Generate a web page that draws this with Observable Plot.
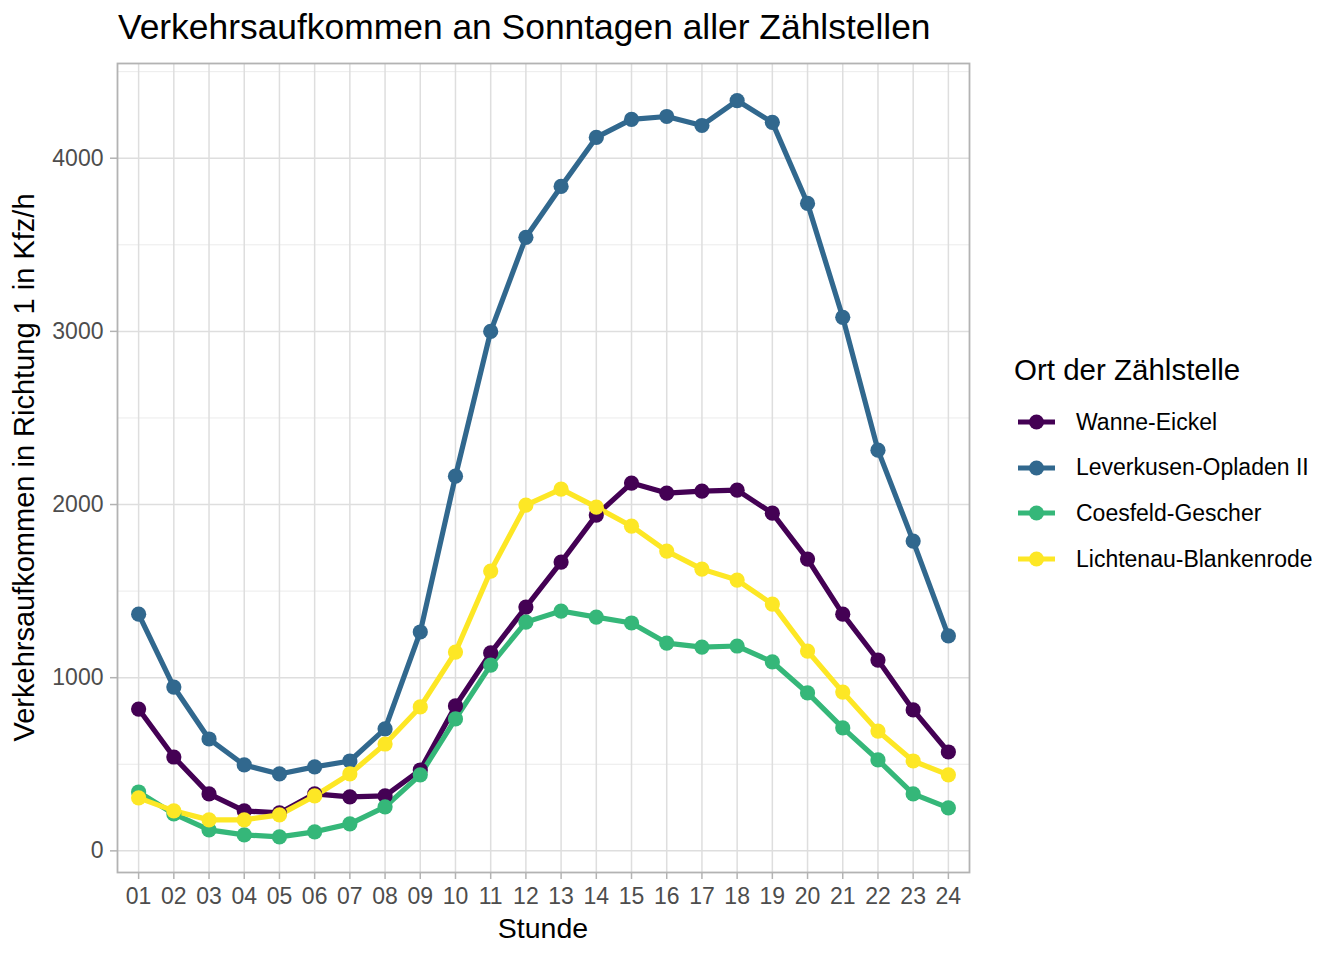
<!DOCTYPE html>
<html>
<head>
<meta charset="utf-8">
<script src="https://cdn.jsdelivr.net/npm/d3@7"></script>
<script src="https://cdn.jsdelivr.net/npm/@observablehq/plot@0.6"></script>
<style>
  html, body { margin: 0; padding: 0; background: #ffffff; }
  body { font-family: "Liberation Sans", Arial, Helvetica, sans-serif; }
  #wrap { position: relative; width: 1344px; height: 960px; overflow: hidden; }
  .txt { position: absolute; white-space: nowrap; color: #000; }
  #title { left: 118px; top: 10px; font-size: 35.4px; line-height: 35.4px; }
  #chart { position: absolute; left: 0; top: 53px; }
  #xlab { left: 343px; width: 400px; text-align: center; top: 914px; font-size: 28.5px; line-height: 28.5px; }
  #ylab { width: 700px; text-align: center; font-size: 29px; line-height: 29px;
          left: calc(24px - 350px); top: calc(467px - 14.5px); transform: rotate(-90deg); transform-origin: 50% 50%; }
  #legtitle { left: 1014px; top: 355px; font-size: 29.5px; line-height: 29.5px; }
  .legitem { position: absolute; left: 1016px; height: 30px; }
  .legitem svg { position: absolute; left: 0; top: 0; }
  .legitem span { position: absolute; left: 60px; font-size: 23px; line-height: 23px; white-space: nowrap; }
</style>
</head>
<body>
<div id="wrap">
  <div id="title" class="txt">Verkehrsaufkommen an Sonntagen aller Zählstellen</div>
  <div id="chart"></div>
  <div id="xlab" class="txt">Stunde</div>
  <div id="ylab" class="txt">Verkehrsaufkommen in Richtung 1 in Kfz/h</div>
  <div id="legtitle" class="txt">Ort der Zählstelle</div>
  <div id="legend"></div>
</div>
<script>
const hours = ["01","02","03","04","05","06","07","08","09","10","11","12","13","14","15","16","17","18","19","20","21","22","23","24"];
const sites = ["Wanne-Eickel", "Leverkusen-Opladen II", "Coesfeld-Gescher", "Lichtenau-Blankenrode"];
const siteColors = ["#440154", "#31688E", "#35B779", "#FDE725"];

const wanneEickel = [819, 542, 329, 231, 219, 329, 312, 317, 467, 837, 1143, 1408, 1668, 1939, 2124, 2066, 2077, 2083, 1950, 1685, 1367, 1102, 814, 571];
const leverkusenOpladen = [1367, 946, 646, 496, 444, 485, 519, 704, 1264, 2164, 3000, 3543, 3837, 4120, 4224, 4241, 4189, 4333, 4207, 3739, 3081, 2314, 1789, 1241];
const coesfeldGescher = [340, 213, 121, 92, 81, 110, 156, 254, 439, 762, 1073, 1321, 1385, 1350, 1316, 1200, 1177, 1183, 1091, 912, 710, 525, 329, 248];
const lichtenauBlankenrode = [306, 231, 179, 179, 208, 317, 444, 617, 831, 1148, 1616, 1997, 2089, 1985, 1875, 1731, 1627, 1564, 1425, 1154, 917, 692, 519, 439];

const yMajor = [0, 1000, 2000, 3000, 4000];
const yMinor = [500, 1500, 2500, 3500, 4500];

const seriesValues = [wanneEickel, leverkusenOpladen, coesfeldGescher, lichtenauBlankenrode];
const data = [];
sites.forEach((s, i) => hours.forEach((h, j) => data.push({site: s, hour: h, value: seriesValues[i][j]})));

const chart = Plot.plot({
  width: 1344,
  height: 907,
  marginTop: 10,
  marginLeft: 117,
  marginRight: 375,
  marginBottom: 88,
  style: {fontFamily: '"Liberation Sans", Arial, Helvetica, sans-serif', background: "#ffffff", overflow: "visible"},
  x: {type: "point", domain: hours, padding: 0.6, round: false},
  y: {domain: [-125, 4547]},
  color: {domain: sites, range: siteColors},
  marks: [
    Plot.ruleY(yMinor, {stroke: "#e6e6e6", strokeWidth: 0.8}),
    Plot.ruleY(yMajor, {stroke: "#dedede", strokeWidth: 1.5}),
    Plot.ruleX(hours, {stroke: "#dedede", strokeWidth: 1.5}),
    Plot.frame({stroke: "#b3b3b3", strokeWidth: 1.8}),
    Plot.line(data, {x: "hour", y: "value", z: "site", stroke: "site", strokeWidth: 5.2, strokeLinejoin: "round", strokeLinecap: "butt"}),
    Plot.dot(data, {x: "hour", y: "value", fill: "site", r: 7.6, stroke: null}),
    Plot.axisX({ticks: hours, tickSize: 7, tickPadding: 8, fontSize: 23, stroke: "#b3b3b3", strokeWidth: 1.5, fill: "#4d4d4d", label: null}),
    Plot.axisY({ticks: yMajor, tickSize: 7, tickPadding: 7, fontSize: 23, stroke: "#b3b3b3", strokeWidth: 1.5, fill: "#4d4d4d", label: null, tickFormat: d => String(d)})
  ]
});
document.getElementById("chart").appendChild(chart);

// legend (ggplot-style line+point keys)
const legend = document.getElementById("legend");
const baselines = [430, 475.5, 521, 567];
sites.forEach((s, i) => {
  const item = document.createElement("div");
  item.className = "legitem";
  const cy = baselines[i] - 8;
  item.style.top = (cy - 15) + "px";
  item.innerHTML = `<svg width="44" height="30"><line x1="2" x2="39" y1="15" y2="15" stroke="${siteColors[i]}" stroke-width="5"/><circle cx="20.5" cy="15" r="7.5" fill="${siteColors[i]}"/></svg><span style="top:${baselines[i] - 0.8465*23 - (cy - 15)}px">${s}</span>`;
  legend.appendChild(item);
});
</script>
</body>
</html>
